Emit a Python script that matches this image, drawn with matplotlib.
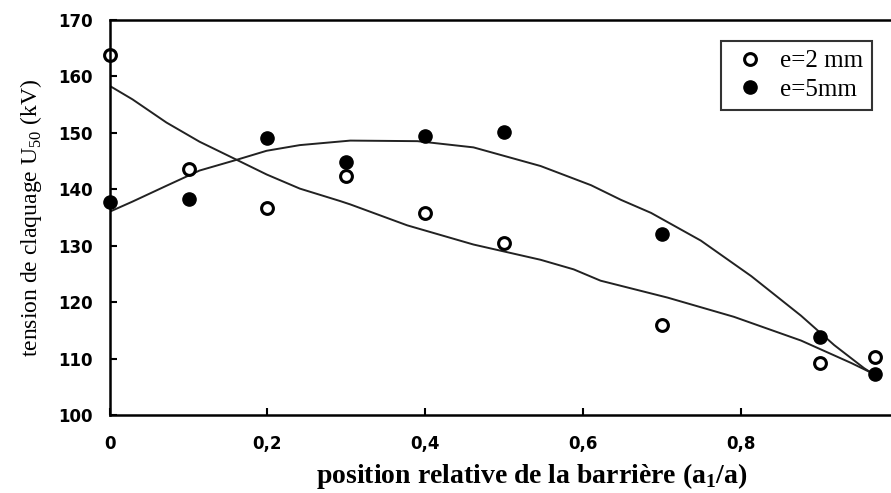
import matplotlib.pyplot as plt
import numpy as np

# points mesurés
x_pts = np.array([0, 0.1, 0.2, 0.3, 0.4, 0.5, 0.7, 0.9, 0.97])
u_2mm = np.array([163.8, 143.6, 136.7, 142.3, 135.8, 130.5, 116.0, 109.3, 110.2])
u_5mm = np.array([137.7, 138.3, 149.0, 144.8, 149.5, 150.2, 132.0, 113.8, 107.3])

# courbes tracées
x_fit2 = np.array([0, 0.029, 0.072, 0.114, 0.161, 0.199, 0.241, 0.292, 0.305, 0.377,
                   0.461, 0.546, 0.588, 0.622, 0.707, 0.791, 0.876, 0.94, 0.965])
u_fit2 = np.array([158.3, 155.9, 151.8, 148.4, 145.2, 142.6, 140.1, 137.9, 137.3, 133.6,
                   130.2, 127.5, 125.8, 123.8, 120.8, 117.4, 113.2, 109.2, 107.5])
x_fit5 = np.array([0, 0.029, 0.072, 0.114, 0.161, 0.199, 0.241, 0.305, 0.39, 0.461,
                   0.546, 0.61, 0.648, 0.686, 0.749, 0.813, 0.876, 0.918, 0.956, 0.965])
u_fit5 = np.array([136.0, 137.8, 140.6, 143.3, 145.2, 146.8, 147.8, 148.6, 148.5, 147.4,
                   144.1, 140.7, 138.1, 135.8, 130.9, 124.6, 117.6, 112.4, 108.3, 107.5])

xticks = [0, 0.2, 0.4, 0.6, 0.8]
xtick_labels = ['0', '0,2', '0,4', '0,6', '0,8']
yticks = [100, 110, 120, 130, 140, 150, 160, 170]

fig = plt.figure(figsize=(8.91, 4.93), dpi=100)
ax = fig.add_axes([0.123, 0.158, 0.877, 0.802])

ax.plot(x_fit2, u_fit2, color='#222222', lw=1.4)
ax.plot(x_fit5, u_fit5, color='#222222', lw=1.4)
ax.plot(x_pts, u_2mm, 'o', mfc='white', mec='black', mew=2.2, ms=8.5, label='e=2 mm', clip_on=False)
ax.plot(x_pts, u_5mm, 'o', mfc='black', mec='black', ms=9.5, label='e=5mm', clip_on=False)

ax.set_xlim(0, 0.99)
ax.set_ylim(100, 170)
ax.set_xticks(xticks)
ax.set_xticklabels(xtick_labels)
ax.set_yticks(yticks)
ax.tick_params(direction='in', length=5, width=1.5)
ax.tick_params(axis='y', pad=12)
ax.tick_params(axis='x', pad=14)
for lab in ax.get_xticklabels() + ax.get_yticklabels():
    lab.set_fontweight('bold')
    lab.set_fontsize(12)
    lab.set_family('DejaVu Sans')

for side in ['left', 'bottom', 'top']:
    ax.spines[side].set_linewidth(1.8)
ax.spines['right'].set_visible(False)

ax.set_xlabel('position relative de la barrière (a$_\\mathregular{1}$/a)',
              family='Liberation Serif', fontweight='bold', fontsize=20, labelpad=2)
ax.xaxis.set_label_coords(0.54, -0.115)
ax.set_ylabel('tension de claquage U$_\\mathregular{50}$ (kV)',
              family='Liberation Serif', fontsize=17, labelpad=10)

leg = ax.legend(loc='upper right', bbox_to_anchor=(0.985, 0.965), frameon=True, fancybox=False,
                edgecolor='black', handletextpad=0.4, handlelength=1.6, borderpad=0.35,
                labelspacing=0.25, borderaxespad=0.3,
                prop={'family': 'Liberation Serif', 'size': 18})
leg.get_frame().set_linewidth(1.5)

plt.savefig('out.png', dpi=100)
